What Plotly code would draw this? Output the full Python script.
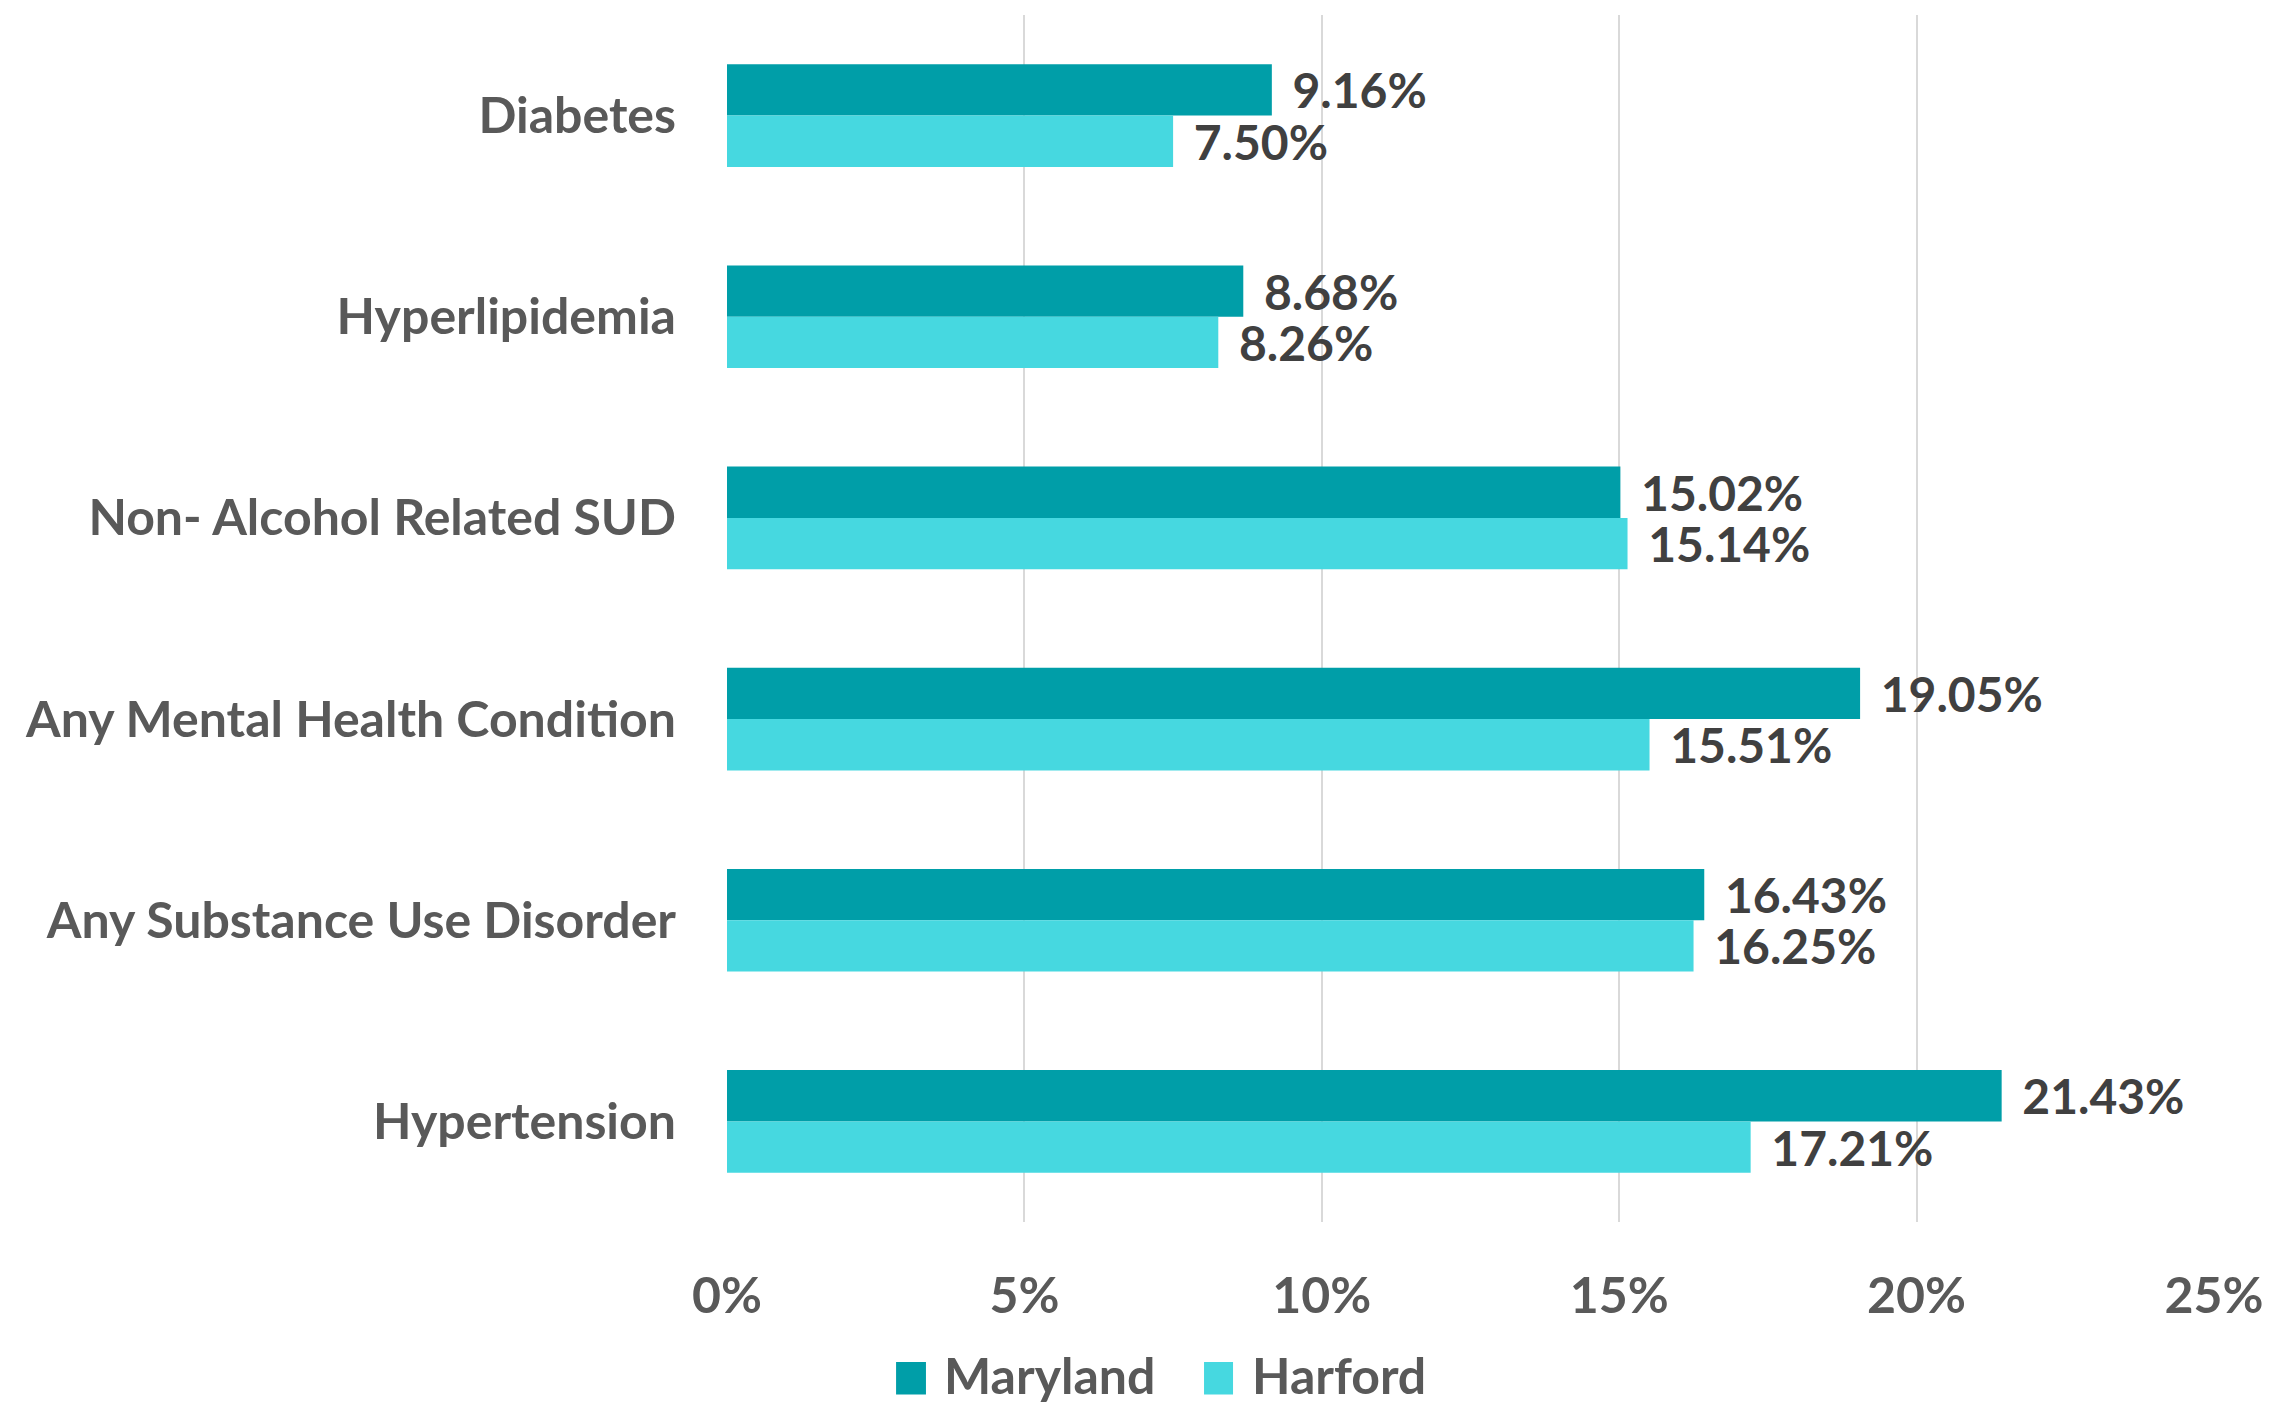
import plotly.graph_objects as go

# Prevalence of chronic conditions (%), Maryland vs Harford County
conditions = [
    "Diabetes",
    "Hyperlipidemia",
    "Non- Alcohol Related SUD",
    "Any Mental Health Condition",
    "Any Substance Use Disorder",
    "Hypertension",
]
maryland = [9.16, 8.68, 15.02, 19.05, 16.43, 21.43]
harford = [7.50, 8.26, 15.14, 15.51, 16.25, 17.21]
x_ticks = [0, 5, 10, 15, 20, 25]

series = [
    ("Maryland", maryland, "#009EA8"),
    ("Harford", harford, "#46D8E0"),
]

FONT = "Lato"
LABEL_GREY = "#595959"
VALUE_GREY = "#404040"

fig = go.Figure()
for name, vals, color in series:
    fig.add_trace(go.Bar(
        name=name,
        y=conditions,
        x=vals,
        orientation="h",
        marker=dict(color=color, line=dict(width=0)),
        text=[f"\u00a0\u2009{v:.2f}%" for v in vals],
        textposition="outside",
        constraintext="none",
        cliponaxis=False,
        textfont=dict(family=FONT, size=48, color=VALUE_GREY, weight="bold"),
        hoverinfo="skip",
        showlegend=False,
    ))

# Legend drawn below the axis: a swatch and a label per series
swatch_x = [(0.1137, 0.1338), (0.3208, 0.3403)]
label_x = [0.1446, 0.3517]
for (name, _, color), (x0, x1), lx in zip(series, swatch_x, label_x):
    fig.add_shape(
        type="rect", xref="paper", yref="paper",
        x0=x0, x1=x1, y0=-0.143, y1=-0.116,
        fillcolor=color, line=dict(width=0),
    )
    fig.add_annotation(
        text=name, xref="paper", yref="paper",
        x=lx, y=-0.127, xanchor="left", yanchor="middle",
        showarrow=False,
        font=dict(family=FONT, size=50, color=LABEL_GREY, weight="bold"),
    )

fig.update_layout(
    width=2293,
    height=1409,
    barmode="group",
    bargap=0.49,
    bargroupgap=0,
    plot_bgcolor="white",
    paper_bgcolor="white",
    margin=dict(l=727, r=79, t=15, b=187, autoexpand=False),
    font=dict(family=FONT, color=LABEL_GREY, weight="bold"),
    showlegend=False,
)
fig.update_xaxes(
    range=[0, 25],
    tickvals=x_ticks,
    ticktext=[f"{t}%" for t in x_ticks],
    showgrid=True,
    gridcolor="#D9D9D9",
    gridwidth=2,
    zeroline=False,
    showline=False,
    ticks="",
    ticklabelstandoff=40,
    tickfont=dict(family=FONT, size=50, color=LABEL_GREY, weight="bold"),
)
fig.update_yaxes(
    autorange="reversed",
    showgrid=False,
    zeroline=False,
    showline=False,
    ticks="",
    ticklabelstandoff=50,
    tickfont=dict(family=FONT, size=50, color=LABEL_GREY, weight="bold"),
)

fig.write_html("out.html")
